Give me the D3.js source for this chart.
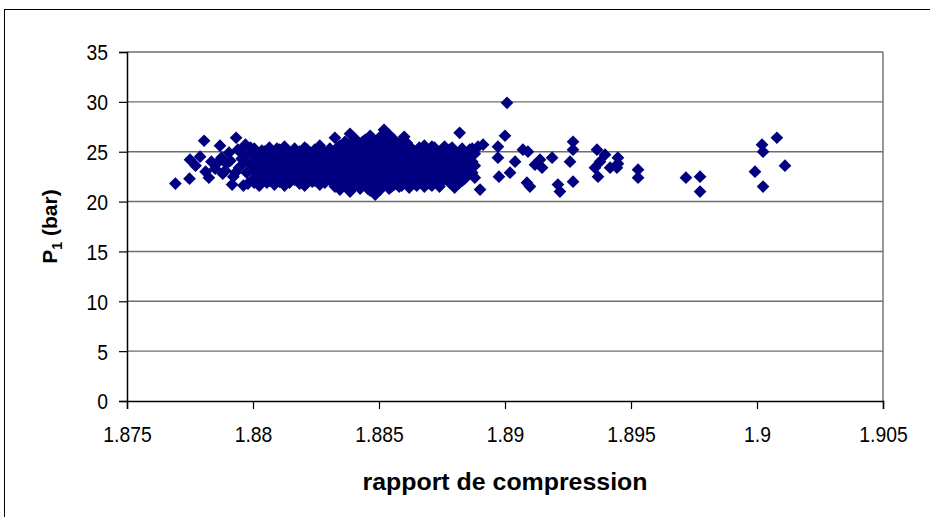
<!DOCTYPE html>
<html>
<head>
<meta charset="utf-8">
<script src="https://cdn.jsdelivr.net/npm/d3@7"></script>
<style>
  html, body { margin: 0; padding: 0; background: #fff; }
  svg { display: block; }
  text { font-family: "Liberation Sans", Arial, sans-serif; fill: #000; }
</style>
</head>
<body>
<svg id="chart" width="930" height="517"></svg>
<script>
// Mesures : rapport de compression (x) et pression P1 en bar (y)
const bordGauche = [
  [1.87692, 21.8], [1.87748, 22.3], [1.87750, 24.2], [1.87772, 23.6], [1.87790, 24.5],
  [1.87806, 26.1], [1.87812, 23.0], [1.87825, 22.4], [1.87835, 24.0], [1.87850, 23.3],
  [1.87869, 25.6], [1.87875, 24.4], [1.87880, 22.8], [1.87895, 23.8], [1.87905, 24.9],
  [1.87917, 21.7], [1.87922, 22.5], [1.87933, 26.4], [1.87940, 25.2], [1.87945, 23.4],
  [1.87955, 24.3], [1.87962, 21.6], [1.87970, 25.7], [1.87975, 22.9], [1.87985, 24.8],
  [1.87995, 23.6], [1.87998, 22.2], [1.87860, 23.9], [1.87890, 23.1], [1.87910, 24.1],
  [1.87930, 22.9], [1.87950, 25.0], [1.87968, 24.0], [1.87980, 21.8], [1.87990, 25.4]
];

const nuage = [
  [1.88005, 25.3], [1.88005, 24.1], [1.88005, 23.0], [1.88005, 21.9],
  [1.88015, 24.6], [1.88015, 23.3], [1.88015, 22.1],
  [1.88025, 24.7], [1.88025, 23.5], [1.88025, 22.4], [1.88025, 21.6],
  [1.88035, 25.1], [1.88035, 23.9], [1.88035, 22.7],
  [1.88045, 25.0], [1.88045, 23.9], [1.88045, 22.8],
  [1.88055, 24.3], [1.88055, 23.1], [1.88055, 21.9],
  [1.88065, 25.4], [1.88065, 24.4], [1.88065, 23.2], [1.88065, 22.1],
  [1.88075, 24.9], [1.88075, 23.6], [1.88075, 22.5],
  [1.88085, 24.8], [1.88085, 23.7], [1.88085, 22.6], [1.88085, 21.7],
  [1.88095, 25.3], [1.88095, 24.0], [1.88095, 22.9],
  [1.88105, 25.2], [1.88105, 24.2], [1.88105, 23.1], [1.88105, 22.0],
  [1.88115, 24.6], [1.88115, 23.3], [1.88115, 22.3],
  [1.88125, 25.5], [1.88125, 24.5], [1.88125, 23.5], [1.88125, 22.4], [1.88125, 21.6],
  [1.88135, 24.9], [1.88135, 23.9], [1.88135, 22.7],
  [1.88145, 24.9], [1.88145, 23.8], [1.88145, 22.8], [1.88145, 21.9],
  [1.88155, 24.5], [1.88155, 23.4], [1.88155, 22.3],
  [1.88165, 25.3], [1.88165, 24.3], [1.88165, 23.2], [1.88165, 22.2],
  [1.88175, 25.0], [1.88175, 23.7], [1.88175, 22.6],
  [1.88185, 25.0], [1.88185, 24.0], [1.88185, 22.9], [1.88185, 21.8],
  [1.88195, 24.4], [1.88195, 23.2], [1.88195, 22.2],
  [1.88205, 25.4], [1.88205, 24.6], [1.88205, 23.5], [1.88205, 22.5], [1.88205, 21.6],
  [1.88215, 25.2], [1.88215, 24.0], [1.88215, 23.0],
  [1.88225, 24.8], [1.88225, 23.8], [1.88225, 22.7],
  [1.88235, 24.5], [1.88235, 23.4], [1.88235, 22.0],
  [1.88245, 25.2], [1.88245, 24.2], [1.88245, 23.1], [1.88245, 22.1],
  [1.88255, 24.8], [1.88255, 23.7], [1.88255, 22.6],
  [1.88265, 25.6], [1.88265, 24.5], [1.88265, 23.4], [1.88265, 22.4], [1.88265, 21.7],
  [1.88275, 25.1], [1.88275, 24.1], [1.88275, 22.9],
  [1.88285, 24.9], [1.88285, 23.9], [1.88285, 22.8], [1.88285, 21.9],
  [1.88295, 24.4], [1.88295, 23.4], [1.88295, 22.3],
  [1.88305, 25.3], [1.88305, 24.3], [1.88305, 23.2], [1.88305, 22.2],
  [1.88315, 24.7], [1.88315, 23.7], [1.88315, 22.6],
  [1.88325, 26.4], [1.88325, 25.1], [1.88325, 24.0], [1.88325, 22.9], [1.88325, 21.5],
  [1.88335, 25.4], [1.88335, 24.3], [1.88335, 23.1], [1.88335, 22.0],
  [1.88345, 25.6], [1.88345, 24.6], [1.88345, 23.6], [1.88345, 22.5], [1.88345, 21.2],
  [1.88355, 25.1], [1.88355, 24.1], [1.88355, 23.1], [1.88355, 22.0],
  [1.88365, 26.0], [1.88365, 24.9], [1.88365, 23.8], [1.88365, 22.7], [1.88365, 21.7],
  [1.88375, 25.6], [1.88375, 24.4], [1.88375, 23.3], [1.88375, 22.2],
  [1.88385, 26.8], [1.88385, 25.4], [1.88385, 24.3], [1.88385, 23.2], [1.88385, 22.1], [1.88385, 21.0],
  [1.88395, 25.9], [1.88395, 24.8], [1.88395, 23.7], [1.88395, 22.5], [1.88395, 21.5],
  [1.88405, 26.3], [1.88405, 25.2], [1.88405, 24.0], [1.88405, 22.9], [1.88405, 21.6],
  [1.88415, 25.6], [1.88415, 24.5], [1.88415, 23.4], [1.88415, 22.2],
  [1.88425, 25.7], [1.88425, 24.6], [1.88425, 23.5], [1.88425, 22.4], [1.88425, 21.3],
  [1.88435, 26.0], [1.88435, 25.0], [1.88435, 24.0], [1.88435, 22.9], [1.88435, 21.9],
  [1.88445, 26.2], [1.88445, 25.0], [1.88445, 23.9], [1.88445, 22.8], [1.88445, 21.8],
  [1.88455, 25.7], [1.88455, 24.5], [1.88455, 23.4], [1.88455, 22.3], [1.88455, 21.3],
  [1.88465, 26.6], [1.88465, 25.5], [1.88465, 24.4], [1.88465, 23.3], [1.88465, 22.2], [1.88465, 21.1],
  [1.88475, 26.2], [1.88475, 25.0], [1.88475, 23.9], [1.88475, 22.8], [1.88475, 21.7],
  [1.88485, 26.0], [1.88485, 24.9], [1.88485, 23.8], [1.88485, 22.6], [1.88485, 20.7],
  [1.88495, 25.6], [1.88495, 24.5], [1.88495, 23.4], [1.88495, 22.3], [1.88495, 21.5],
  [1.88505, 26.5], [1.88505, 25.3], [1.88505, 24.2], [1.88505, 23.1], [1.88505, 22.0], [1.88505, 21.2],
  [1.88512, 25.8], [1.88512, 24.7], [1.88512, 23.5], [1.88512, 22.6], [1.88512, 21.6],
  [1.88520, 27.2], [1.88520, 26.1], [1.88520, 25.0], [1.88520, 23.6], [1.88520, 22.4],
  [1.88530, 26.2], [1.88530, 24.9], [1.88530, 24.0], [1.88530, 22.8], [1.88530, 21.8],
  [1.88540, 26.7], [1.88540, 25.6], [1.88540, 24.5], [1.88540, 23.4], [1.88540, 22.3], [1.88540, 21.3],
  [1.88550, 25.9], [1.88550, 24.8], [1.88550, 23.7], [1.88550, 22.6], [1.88550, 21.5],
  [1.88560, 26.2], [1.88560, 25.1], [1.88560, 24.0], [1.88560, 22.9], [1.88560, 21.7],
  [1.88570, 25.4], [1.88570, 24.3], [1.88570, 23.1], [1.88570, 22.1],
  [1.88580, 25.8], [1.88580, 24.7], [1.88580, 23.6], [1.88580, 22.5], [1.88580, 21.5],
  [1.88590, 25.8], [1.88590, 24.6], [1.88590, 23.5], [1.88590, 22.4], [1.88590, 21.6],
  [1.88600, 26.5], [1.88600, 25.3], [1.88600, 24.2], [1.88600, 23.1], [1.88600, 22.0],
  [1.88610, 25.9], [1.88610, 24.8], [1.88610, 23.7], [1.88610, 22.6],
  [1.88620, 25.5], [1.88620, 24.4], [1.88620, 23.3], [1.88620, 22.2], [1.88620, 21.4],
  [1.88630, 25.3], [1.88630, 24.2], [1.88630, 23.1], [1.88630, 22.0],
  [1.88640, 25.0], [1.88640, 23.9], [1.88640, 22.8], [1.88640, 21.8],
  [1.88650, 24.8], [1.88650, 23.7], [1.88650, 22.6], [1.88650, 21.6],
  [1.88660, 25.4], [1.88660, 24.3], [1.88660, 23.2], [1.88660, 22.1],
  [1.88670, 25.2], [1.88670, 24.0], [1.88670, 22.9], [1.88670, 21.9],
  [1.88680, 25.6], [1.88680, 24.6], [1.88680, 23.5], [1.88680, 22.4], [1.88680, 21.5],
  [1.88690, 24.9], [1.88690, 23.9], [1.88690, 22.8],
  [1.88700, 25.1], [1.88700, 24.0], [1.88700, 22.9], [1.88700, 21.8],
  [1.88710, 25.5], [1.88710, 24.6], [1.88710, 23.6], [1.88710, 22.5], [1.88710, 21.6],
  [1.88720, 25.4], [1.88720, 24.4], [1.88720, 23.3], [1.88720, 22.2],
  [1.88730, 24.7], [1.88730, 23.7], [1.88730, 22.6],
  [1.88740, 25.0], [1.88740, 23.9], [1.88740, 22.8], [1.88740, 21.5],
  [1.88750, 25.2], [1.88750, 24.1], [1.88750, 23.1], [1.88750, 22.0],
  [1.88760, 25.5], [1.88760, 24.5], [1.88760, 23.4], [1.88760, 22.3],
  [1.88770, 24.8], [1.88770, 23.7], [1.88770, 22.6],
  [1.88780, 25.2], [1.88780, 24.1], [1.88780, 23.0], [1.88780, 21.9],
  [1.88790, 25.4], [1.88790, 24.4], [1.88790, 23.4], [1.88790, 22.3],
  [1.88800, 24.8], [1.88800, 23.6], [1.88800, 22.5], [1.88800, 21.4],
  [1.88810, 24.4], [1.88810, 23.3], [1.88810, 22.2],
  [1.88820, 26.9], [1.88820, 25.0], [1.88820, 24.0], [1.88820, 22.9], [1.88820, 21.9],
  [1.88830, 25.3], [1.88830, 24.2], [1.88830, 23.1], [1.88830, 22.1],
  [1.88840, 24.5], [1.88840, 23.4], [1.88840, 22.3],
  [1.88850, 24.8], [1.88850, 23.7], [1.88850, 22.7],
  [1.88860, 25.2], [1.88860, 24.2], [1.88860, 23.1],
  [1.88870, 25.3], [1.88870, 24.0], [1.88870, 22.9],
  [1.88880, 24.8], [1.88880, 23.6], [1.88880, 22.4],
  [1.88893, 25.5], [1.88901, 21.2]
];

const bordDroit = [
  [1.88913, 25.7], [1.88972, 25.5], [1.88972, 24.4], [1.88976, 22.5], [1.89000, 26.6], [1.89008, 29.9],
  [1.89020, 22.9], [1.89040, 24.0], [1.89071, 25.2], [1.89087, 21.9], [1.89091, 25.0], [1.89099, 21.5],
  [1.89119, 23.7], [1.89139, 24.2], [1.89147, 23.4], [1.89187, 24.4], [1.89210, 21.7], [1.89218, 21.0],
  [1.89258, 24.0], [1.89270, 26.0], [1.89270, 25.2], [1.89270, 22.0],
  [1.89357, 23.4], [1.89365, 25.2], [1.89369, 22.5], [1.89377, 24.0], [1.89397, 24.7],
  [1.89417, 23.4], [1.89444, 23.4], [1.89448, 24.4], [1.89448, 23.8],
  [1.89528, 23.2], [1.89528, 22.4],
  [1.89718, 22.4], [1.89774, 22.5], [1.89774, 21.0],
  [1.89992, 23.0], [1.90020, 25.7], [1.90024, 25.0], [1.90024, 21.5], [1.90079, 26.4], [1.90111, 23.6]
];

const mesures = bordGauche.concat(nuage, bordDroit);

const xTicks = [1.875, 1.88, 1.885, 1.89, 1.895, 1.9, 1.905];
const yTicks = [0, 5, 10, 15, 20, 25, 30, 35];
const xTitle = "rapport de compression";

const svg = d3.select("#chart");
const W = 930, H = 517;
const plot = { left: 127, right: 883, top: 52, bottom: 401 };

const x = d3.scaleLinear().domain([1.875, 1.905]).range([plot.left, plot.right]);
const y = d3.scaleLinear().domain([0, 35]).range([plot.bottom, plot.top]);

// cadre extérieur
svg.append("rect")
  .attr("x", 4.5).attr("y", 9.5)
  .attr("width", W + 10).attr("height", H + 10)
  .attr("fill", "#fff").attr("stroke", "#000").attr("stroke-width", 1);

// quadrillage horizontal et bord droit de la zone de tracé
svg.append("g")
  .selectAll("line")
  .data(yTicks.filter(d => d > 0))
  .join("line")
  .attr("x1", plot.left).attr("x2", plot.right)
  .attr("y1", d => y(d)).attr("y2", d => y(d))
  .attr("stroke", "#6e6e6e").attr("stroke-width", 1.4);

svg.append("line")
  .attr("x1", plot.right).attr("x2", plot.right)
  .attr("y1", plot.top).attr("y2", plot.bottom)
  .attr("stroke", "#6e6e6e").attr("stroke-width", 1.4);

// axes
const xAxis = d3.axisBottom(x).tickValues(xTicks).tickSize(8).tickPadding(22)
  .tickFormat(d => String(+d.toFixed(3)));
const yAxis = d3.axisLeft(y).tickValues(yTicks).tickSize(8).tickPadding(11)
  .tickFormat(d3.format("d"));

const gx = svg.append("g").attr("transform", `translate(0,${plot.bottom})`).call(xAxis);
const gy = svg.append("g").attr("transform", `translate(${plot.left},0)`).call(yAxis);

[gx, gy].forEach(g => {
  g.select(".domain").attr("stroke", "#000").attr("stroke-width", 1.5);
  g.selectAll(".tick line").attr("stroke", "#000").attr("stroke-width", 1.2);
  g.selectAll(".tick text")
    .attr("font-family", "Liberation Sans, Arial, sans-serif")
    .attr("font-size", 22).attr("fill", "#000")
    .each(function () {
      // chiffres un peu resserrés horizontalement
      const w = this.getComputedTextLength();
      d3.select(this).attr("textLength", w * 0.88).attr("lengthAdjust", "spacingAndGlyphs");
    });
});
gx.selectAll(".tick text").attr("dy", "0.5em");
gy.selectAll(".tick text").attr("dy", "0.36em");

// points (losanges)
const diamond = d3.symbol().type(d3.symbolSquare).size(81)();
svg.append("g")
  .selectAll("path")
  .data(mesures)
  .join("path")
  .attr("d", diamond)
  .attr("transform", d => `translate(${x(d[0])},${y(d[1])}) rotate(45)`)
  .attr("fill", "#000080");

// titres des axes
svg.append("text")
  .attr("x", 505).attr("y", 490)
  .attr("text-anchor", "middle")
  .attr("font-size", 23).attr("font-weight", "bold")
  .attr("textLength", 285).attr("lengthAdjust", "spacingAndGlyphs")
  .text(xTitle);

const yt = svg.append("text")
  .attr("transform", `translate(57,${(plot.top + plot.bottom) / 2}) rotate(-90)`)
  .attr("text-anchor", "middle")
  .attr("font-size", 21).attr("font-weight", "bold");
yt.append("tspan").text("P");
yt.append("tspan").attr("font-size", 14).attr("dy", 5).text("1");
yt.append("tspan").attr("dy", -5).text(" (bar)");
</script>
</body>
</html>
